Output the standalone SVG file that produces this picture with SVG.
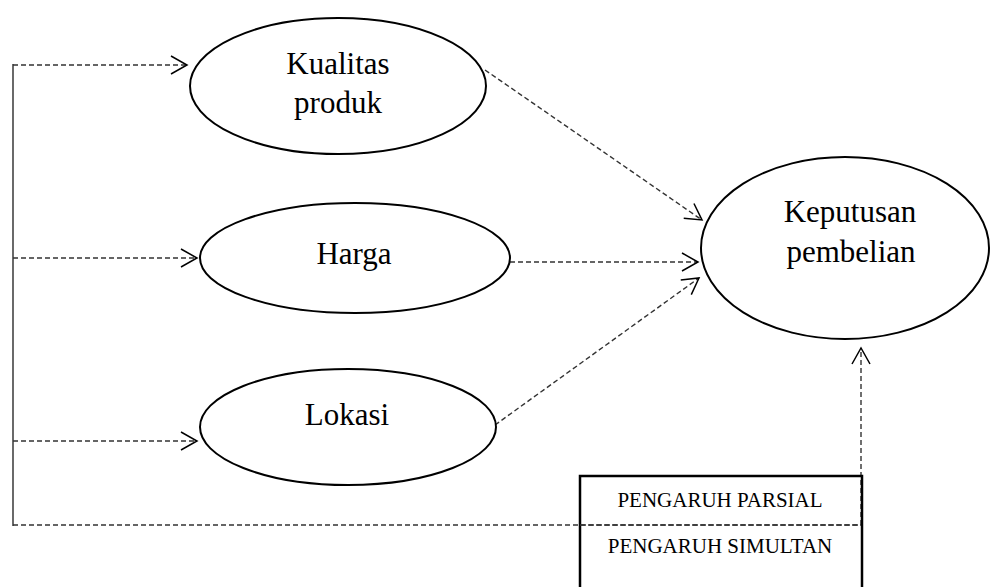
<svg xmlns="http://www.w3.org/2000/svg" width="992" height="587" viewBox="0 0 992 587">
<style>
.node{fill:#fff;stroke:#000;stroke-width:2}
.t{font-family:"Liberation Serif","Times New Roman",serif;font-size:31px;fill:#000;text-anchor:middle}
.lt{font-family:"Liberation Serif","Times New Roman",serif;font-size:21px;fill:#000;text-anchor:middle}
.d{fill:none;stroke:#333;stroke-width:1.4;stroke-dasharray:5,3}
.s{fill:none;stroke:#444;stroke-width:1.6}
</style>
<defs>
<marker id="ah" markerUnits="userSpaceOnUse" markerWidth="40" markerHeight="40" viewBox="-20 -20 40 40" refX="0" refY="0" orient="auto" overflow="visible">
<path d="M-16,-9 L0,0 L-16,9" fill="none" stroke="#000" stroke-width="1.5"/>
</marker>
</defs>
<g id="connectors">
<line class="s" x1="13" y1="64" x2="13" y2="526"/>
<line class="d" x1="13" y1="65" x2="187" y2="65" marker-end="url(#ah)"/>
<line class="d" x1="13" y1="258" x2="197" y2="258" marker-end="url(#ah)"/>
<line class="d" x1="13" y1="441" x2="197" y2="441" marker-end="url(#ah)"/>
<line class="d" x1="13" y1="525" x2="861" y2="525"/>
<line class="d" x1="861" y1="525" x2="861" y2="348" marker-end="url(#ah)"/>
<line class="d" x1="485" y1="70" x2="702" y2="220" marker-end="url(#ah)"/>
<line class="d" x1="510" y1="262" x2="698" y2="262" marker-end="url(#ah)"/>
<line class="d" x1="495" y1="425" x2="699" y2="278" marker-end="url(#ah)"/>
</g>
<g id="kualitas">
<ellipse class="node" cx="338" cy="86" rx="148" ry="68"/>
<text class="t" x="338" y="74">Kualitas</text>
<text class="t" x="338" y="113">produk</text>
</g>
<g id="harga">
<ellipse class="node" cx="355" cy="258" rx="155" ry="55"/>
<text class="t" x="354" y="264">Harga</text>
</g>
<g id="lokasi">
<ellipse class="node" cx="348" cy="427" rx="148" ry="58"/>
<text class="t" x="347" y="425">Lokasi</text>
</g>
<g id="keputusan">
<ellipse class="node" cx="845" cy="248" rx="144" ry="91"/>
<text class="t" x="850" y="222">Keputusan</text>
<text class="t" x="851" y="262">pembelian</text>
</g>
<g id="legend">
<rect x="580" y="476" width="282" height="130" fill="none" stroke="#000" stroke-width="2.5"/>
<line class="d" x1="580" y1="525" x2="861" y2="525"/>
<text class="lt" x="720" y="507">PENGARUH PARSIAL</text>
<text class="lt" x="720" y="553">PENGARUH SIMULTAN</text>
</g>
</svg>
